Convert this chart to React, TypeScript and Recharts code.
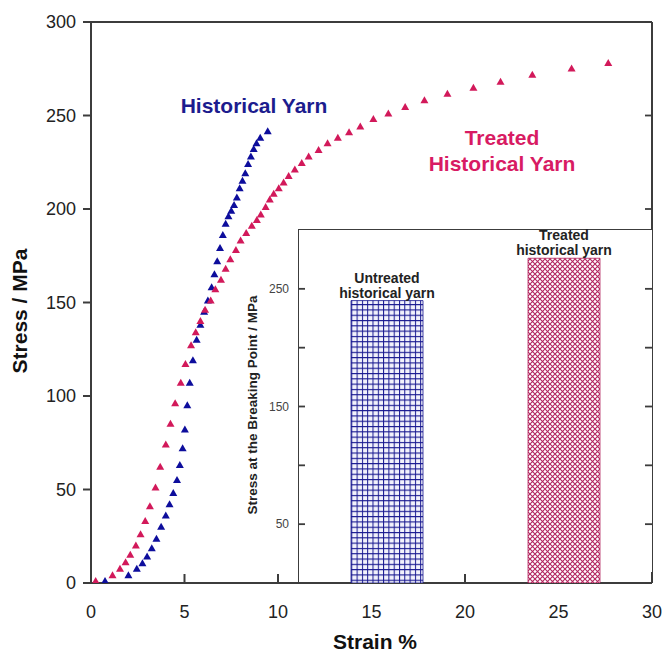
import React from 'react';
import {
  ScatterChart, Scatter, XAxis, YAxis, ComposedChart, Bar, Line, LabelList, Cell
} from 'recharts';

// untreated (historical) yarn stress-strain curve
const histStrain = [0.75, 2.0, 2.45, 2.75, 3.0, 3.25, 3.5, 3.75, 4.0, 4.2, 4.4, 4.6, 4.75, 4.9, 5.02, 5.15, 5.28, 5.45, 5.65, 5.85, 6.05, 6.25, 6.45, 6.6, 6.75, 6.9, 7.05, 7.2, 7.35, 7.5, 7.65, 7.8, 7.95, 8.1, 8.25, 8.4, 8.55, 8.7, 8.85, 9.05, 9.45];
const histStress = [1, 4, 7.5, 10.5, 14, 18.5, 23.5, 30, 36, 42, 48, 55, 63, 72, 82, 95, 107, 119, 130, 138, 145, 151, 158, 165, 172, 179, 186, 192, 196, 199, 202, 206, 211, 215, 219, 224, 228, 232, 235, 238, 241.5];

// treated historical yarn curve
const treatStrain = [0.25, 1.15, 1.55, 1.85, 2.1, 2.4, 2.65, 2.9, 3.15, 3.45, 3.7, 4.0, 4.25, 4.5, 4.8, 5.05, 5.35, 5.6, 5.85, 6.1, 6.4, 6.65, 6.95, 7.2, 7.45, 7.75, 8.0, 8.3, 8.6, 8.87, 9.08, 9.34, 9.56, 9.77, 10.04, 10.3, 10.57, 10.9, 11.27, 11.64, 12.17, 12.65, 13.2, 13.8, 14.4, 15.1, 15.9, 16.8, 17.83, 19.06, 20.45, 21.9, 23.6, 25.7, 27.66];
const treatStress = [1, 4, 7.5, 11, 15, 20, 26, 33, 41, 51, 62, 74, 85, 96, 107, 117, 127, 134, 140, 146, 151, 157, 162, 168, 173, 178, 183, 187, 191, 194, 197, 201, 205, 208, 211, 214, 217.5, 221, 224.5, 228, 231.5, 235, 238, 241, 244, 248, 251, 254.5, 258, 261.5, 264.7, 268, 271.7, 275, 278];

const strainTicks = [0, 5, 10, 15, 20, 25, 30];
const stressTicks = [0, 50, 100, 150, 200, 250, 300];

// inset: stress at breaking point
const yarnNames = ['Untreated', 'Treated'];
const yarnLabels = [['Untreated', 'historical yarn'], ['Treated', 'historical yarn']];
const breakStress = [240, 276];
const insetTicks = [50, 100, 150, 200, 250];
const insetLabelled = [50, 150, 250];

const histData = histStrain.map((x, i) => ({ x, y: histStress[i] }));
const treatData = treatStrain.map((x, i) => ({ x, y: treatStress[i] }));
const barData = yarnNames.map((name, i) => ({ name, value: breakStress[i] }));

const BLUE = '#0d0d9c';
const RED = '#d2195a';
const AXIS = '#3c3c3c';
const FONT = '"Liberation Sans", Arial, sans-serif';

const triangle = (color: string) => (p: any) => {
  const { cx, cy } = p;
  if (cx == null || cy == null) return <g />;
  return <polygon points={`${cx},${cy - 4.2} ${cx + 4},${cy + 2.8} ${cx - 4},${cy + 2.8}`} fill={color} />;
};

// bottom axis: label below, tick pointing up into the plot
const StrainTick = (props: any) => {
  const { x, y, payload } = props;
  const base = y - 21;
  return (
    <g>
      <path d={`M${x},${base}V${base - 9}`} stroke="#3c3c3c" strokeWidth={2} fill="none" />
      <text x={x} y={y} dy="0.75em" textAnchor="middle" fontFamily={FONT} fontSize={18} fill="#222">{payload.value}</text>
    </g>
  );
};

// right axes: inward tick only
const RightTick = (props: any) => {
  const { x, y } = props;
  return <path d={`M${x},${y}H${x - 7}`} stroke="#3c3c3c" strokeWidth={1.8} fill="none" />;
};

// inset left axis: inward tick, label outside
const InsetTick = (props: any) => {
  const { x, y, payload } = props;
  return (
    <g>
      <path d={`M${x + 9},${y}H${x + 16}`} stroke="#3c3c3c" strokeWidth={1.8} fill="none" />
      {insetLabelled.includes(payload.value) && (
        <text x={x} y={y} dy="0.35em" textAnchor="end" fontFamily={FONT} fontSize={12} fill="#444">{payload.value}</text>
      )}
    </g>
  );
};

const BarTitle = (props: any) => {
  const { x, y, width, index } = props;
  const cx = x + width / 2;
  const lines = yarnLabels[index];
  return (
    <text x={cx} textAnchor="middle" fontFamily={FONT} fontSize={14} fontWeight="bold" fill="#222">
      <tspan x={cx} y={y - 18}>{lines[0]}</tspan>
      <tspan x={cx} y={y - 3}>{lines[1]}</tspan>
    </text>
  );
};

export default function App() {
  return (
    <div style={{ position: 'absolute', left: 0, top: 0, width: 666, height: 652, background: '#fff', fontFamily: FONT }}>
      <ScatterChart width={666} height={652} margin={{ top: 21, right: 13, bottom: 29, left: 41 }}>
        <XAxis
          type="number" dataKey="x" domain={[0, 30]} ticks={strainTicks} height={40}
          stroke={AXIS} strokeWidth={2} tickLine={false} tickSize={0} tickMargin={21}
          tick={StrainTick} allowDataOverflow
        />
        <XAxis xAxisId="top" orientation="top" type="number" dataKey="x" domain={[0, 30]} height={1}
          stroke="#3c3c3c" strokeWidth={2} tick={false} tickLine={false} allowDataOverflow />
        <YAxis
          type="number" dataKey="y" domain={[0, 300]} ticks={stressTicks} width={50}
          stroke={AXIS} strokeWidth={2} tickSize={8} tickMargin={7}
          tick={{ fill: '#222', fontSize: 18, fontFamily: FONT }} allowDataOverflow
        />
        <YAxis yAxisId="right" orientation="right" type="number" dataKey="y" domain={[0, 300]} ticks={stressTicks} width={1}
          stroke="#3c3c3c" strokeWidth={2} tickLine={false} tickSize={0} tickMargin={0} tick={RightTick} allowDataOverflow />
        <Scatter data={histData} shape={triangle(BLUE)} legendType="none" isAnimationActive={false} />
        <Scatter data={treatData} shape={triangle(RED)} legendType="none" isAnimationActive={false} />
        {/* carries the top and right frame axes */}
        <Scatter data={treatData} xAxisId="top" yAxisId="right" shape={() => <g />} legendType="none" isAnimationActive={false} />
      </ScatterChart>

      {/* inset frame: white panel that leaves the main x ticks visible at its foot */}
      <div style={{
        position: 'absolute', left: 298, top: 229, width: 355, height: 354, boxSizing: 'border-box',
        borderTop: `1.5px solid ${AXIS}`, borderLeft: `1.5px solid ${AXIS}`, borderRight: `1.5px solid ${AXIS}`,
        background: 'linear-gradient(#fff, #fff) top / 100% 342px no-repeat'
      }} />

      <div style={{ position: 'absolute', left: 240, top: 214, width: 413, height: 369 }}>
        <ComposedChart width={413} height={369} data={barData} margin={{ top: 16, right: 0, bottom: 0, left: 0 }} barSize={72}>
          <defs>
            <pattern id="gridHatch" patternUnits="userSpaceOnUse" width="5.3" height="5.3">
              <rect width="5.3" height="5.3" fill="#f2f2fc" />
              <path d="M0 0.5 H5.3 M0.5 0 V5.3" stroke="#16168f" strokeWidth="1" />
            </pattern>
            <pattern id="crossHatch" patternUnits="userSpaceOnUse" width="5" height="5">
              <rect width="5" height="5" fill="#fff" />
              <path d="M0 0 L5 5 M5 0 L0 5" stroke="#b3245e" strokeWidth="1.1" />
            </pattern>
          </defs>
          <XAxis dataKey="name" hide />
          <YAxis
            type="number" domain={[0, 300]} ticks={insetTicks} width={58}
            axisLine={false} tickLine={false} tickSize={0} tickMargin={9} tick={InsetTick}
          />
          <YAxis yAxisId="right" orientation="right" type="number" domain={[0, 300]} ticks={insetTicks} width={1}
            axisLine={false} tickLine={false} tickSize={0} tickMargin={0} tick={RightTick} />
          <Bar dataKey="value" isAnimationActive={false}>
            <Cell fill="url(#gridHatch)" stroke="#16168f" strokeWidth={0.8} />
            <Cell fill="url(#crossHatch)" stroke="#b3245e" strokeWidth={0.8} />
            <LabelList dataKey="value" content={BarTitle} />
          </Bar>
          {/* invisible series that carries the right-hand inset axis */}
          <Line dataKey="value" yAxisId="right" stroke="none" dot={false} activeDot={false} legendType="none" isAnimationActive={false} />
        </ComposedChart>
      </div>

      {/* text overlay */}
      <svg width={666} height={652} style={{ position: 'absolute', left: 0, top: 0, pointerEvents: 'none' }}>
        <g fontFamily={FONT} fontWeight="bold">
          <text x={254} y={113} textAnchor="middle" fontSize={21} fill="#1c1c8e">Historical Yarn</text>
          <text x={502} y={145} textAnchor="middle" fontSize={21} fill="#d81b63">Treated</text>
          <text x={502} y={171} textAnchor="middle" fontSize={21} fill="#d81b63">Historical Yarn</text>
          <text x={375} y={649} textAnchor="middle" fontSize={21} fill="#111">Strain %</text>
          <text transform="translate(27,311) rotate(-90)" textAnchor="middle" fontSize={21} fill="#111">Stress / MPa</text>
          <text transform="translate(257,405) rotate(-90)" textAnchor="middle" fontSize={13.5} fill="#222">Stress at the Breaking Point / MPa</text>
        </g>
      </svg>
    </div>
  );
}
